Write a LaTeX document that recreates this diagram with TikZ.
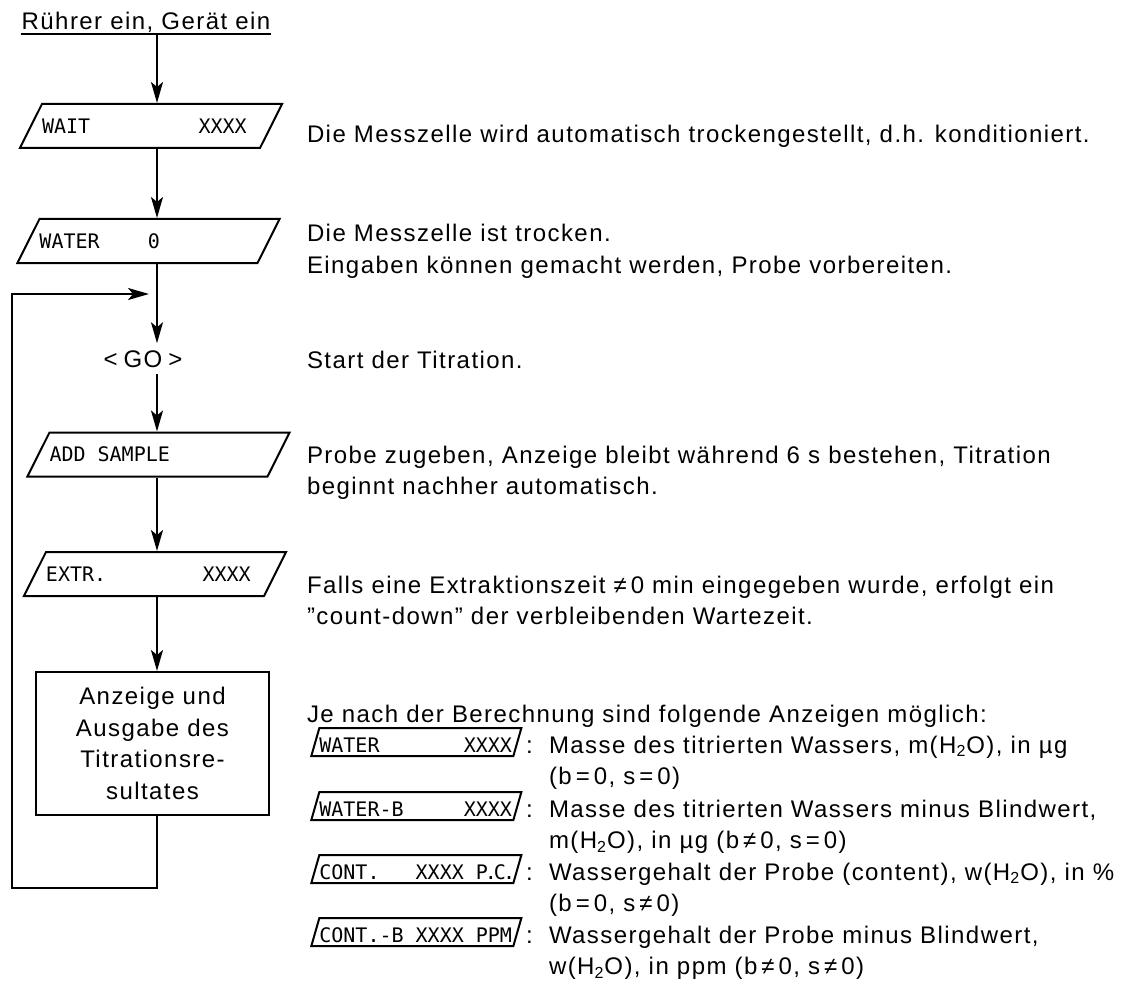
\documentclass[tikz,border=0pt]{standalone}
\usepackage{fontspec}
\setmainfont{Liberation Sans}[LetterSpace=6]
\newfontfamily\lcd{DejaVu Sans Mono}
\usetikzlibrary{positioning,arrows.meta,shapes.geometric}
\newcommand{\body}{\fontsize{12}{15.85}\selectfont}
\newcommand{\dsp}{\fontsize{10}{12}\selectfont\lcd}
\newcommand{\twoln}[2]{\vtop{\hbox{#1}\hbox{#2}}}
\newcommand{\HHO}{H\textsubscript{2}O}

\begin{document}
\begin{tikzpicture}[x=0.5pt, y=-0.5pt, font=\body, line width=1pt,
  ln/.style={line width=1pt},
  arr/.style={-{Stealth[length=10.5pt, width=6pt, inset=2.5pt]}, line width=1pt},
  disp/.style={trapezium, trapezium left angle=63.4, trapezium right angle=116.6, draw, line width=1pt,
               font=\dsp, inner xsep=0pt, inner ysep=7.35pt, text height=7.3pt, text depth=0pt},
  sdisp/.style={disp, trapezium left angle=74, trapezium right angle=106, inner ysep=0.5pt,
                text height=11.5pt, text depth=1.5pt, anchor=bottom left corner},
  blk/.style={draw, line width=1pt, align=center, minimum width=116.5pt, minimum height=71.5pt, inner sep=0pt},
  txt/.style={anchor=base west, inner sep=0pt},
]
\useasboundingbox (0,0) rectangle (1134,984);
\coordinate (axis) at (157,0);
% ---------------- left column: flow of the titration ----------------
\node[anchor=base, inner sep=0pt] (title) at (146,30) {Rührer ein, Gerät ein};
\coordinate (ul) at ([yshift=-2pt]title.base);
\draw[ln] (ul -| title.west) -- (ul -| title.east);
\node[disp] (wait) at (151,126) {\makebox[109pt][l]{WAIT~~~~~~~~~XXXX}};
\node[disp] (water) at (148.5,241) {\makebox[109pt][l]{WATER~~~~0}};
\node[anchor=base, inner sep=3pt] (go) at (143,367) {<\hspace{3pt}GO\hspace{3pt}>};
\node[disp] (add) at (158.5,454.5) {\makebox[109pt][l]{ADD~SAMPLE}};
\node[disp] (extr) at (155,574) {\makebox[109pt][l]{EXTR.~~~~~~~~XXXX}};
\node[blk] (res) at (152.5,743.5) {Anzeige und\\Ausgabe des\\Titrationsre-\\sultates};
\coordinate (loop) at (12,888);
\coordinate (join) at (149,294);
\draw[arr] (ul -| axis) -- (wait.north -| axis);
\draw[arr] (wait.south -| axis) -- (water.north -| axis);
\draw[arr] (water.south -| axis) -- (go.north -| axis);
\draw[arr] (go.south -| axis) -- (add.north -| axis);
\draw[arr] (add.south -| axis) -- (extr.north -| axis);
\draw[arr] (extr.south -| axis) -- (res.north -| axis);
% return path to the next titration
\draw[arr] (res.south -| axis) |- (loop) |- (join);

% ---------------- right column: explanations ----------------
\node[txt] (n1) at (306,143) {Die Messzelle wird automatisch trockengestellt, d.h. konditioniert.};
\node[txt] (n2) at (306,242) {\twoln{Die Messzelle ist trocken.}{Eingaben können gemacht werden, Probe vorbereiten.}};
\node[txt] (n3) at (306,368) {Start der Titration.};
\node[txt] (n4) at (306,463) {\twoln{Probe zugeben, Anzeige bleibt während 6 s bestehen, Titration}{beginnt nachher automatisch.}};
\node[txt] (n5) at (306,593) {\twoln{Falls eine Extraktionszeit ≠\,0 min eingegeben wurde, erfolgt ein}{”count-down” der verbleibenden Wartezeit.}};
\node[txt] (n6) at (306,722) {Je nach der Berechnung sind folgende Anzeigen möglich:};
% possible result displays
\node[sdisp] (r1) at (310,757) {\makebox[97pt][l]{WATER~~~~~~~XXXX}};
\node[sdisp] (r2) at (310,821) {\makebox[97pt][l]{WATER-B~~~~~XXXX}};
\node[sdisp] (r3) at (310,884) {\makebox[97pt][l]{CONT.~~~XXXX~P\kern-1.5pt.\kern-1.5pt C\kern-1.5pt.}};
\node[sdisp] (r4) at (310,947) {\makebox[97pt][l]{CONT.-B~XXXX~PPM}};
\node[txt] (c1) at (525,753) {:};
\node[txt] (c2) at (525,817) {:};
\node[txt] (c3) at (525,880) {:};
\node[txt] (c4) at (525,943) {:};
\node[txt] (e1) at (548,753) {\twoln{Masse des titrierten Wassers, m(\HHO), in µg}{(b\,=\,0, s\,=\,0)}};
\node[txt] (e2) at (548,817) {\twoln{Masse des titrierten Wassers minus Blindwert,}{m(\HHO), in µg (b\,≠\,0, s\,=\,0)}};
\node[txt] (e3) at (548,880) {\twoln{Wassergehalt der Probe (content), w(\HHO), in \%}{(b\,=\,0, s\,≠\,0)}};
\node[txt] (e4) at (548,943) {\twoln{Wassergehalt der Probe minus Blindwert,}{w(\HHO), in ppm (b\,≠\,0, s\,≠\,0)}};
\end{tikzpicture}
\end{document}
